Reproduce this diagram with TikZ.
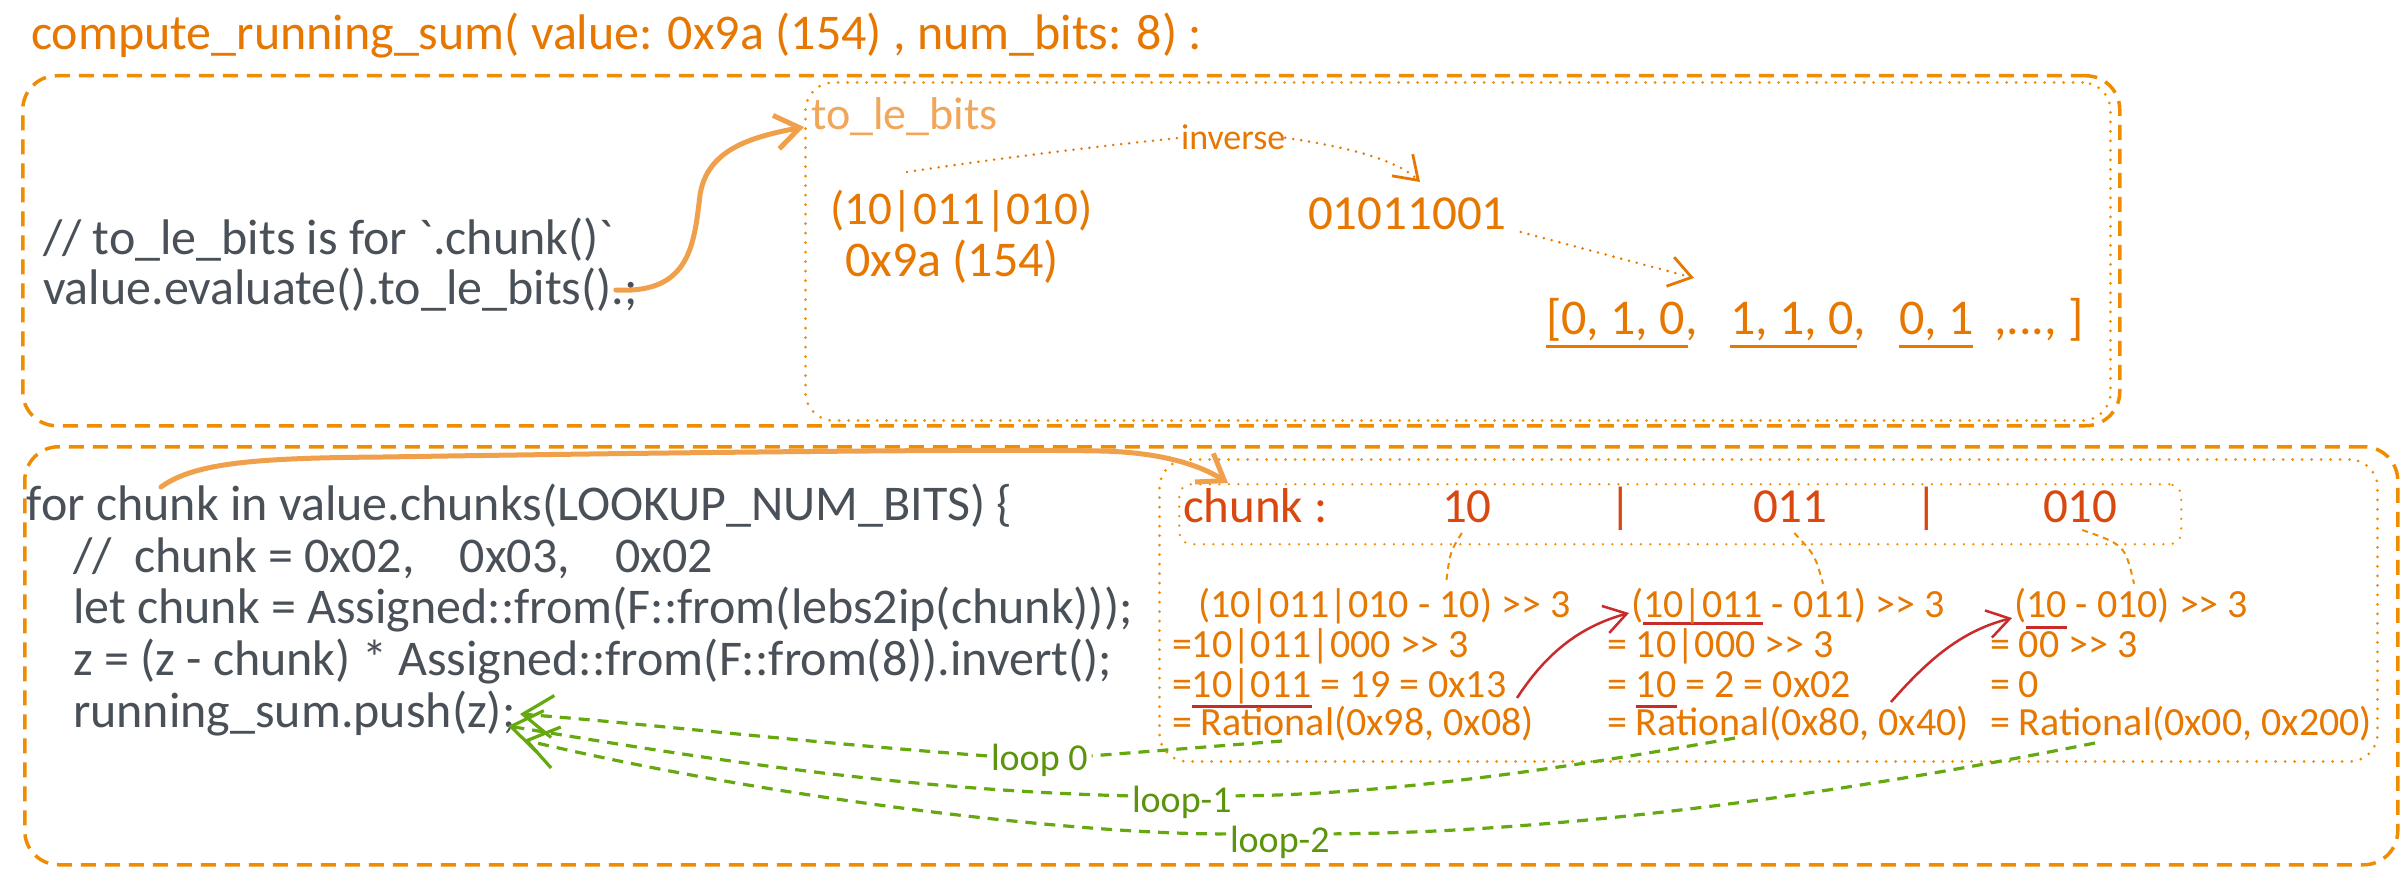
\documentclass[tikz,border=0pt]{standalone}
\usepackage{fontspec}
\setmainfont{Carlito}[Ligatures=TeXOff]
\usetikzlibrary{arrows.meta,calc}
\definecolor{ora}{HTML}{E67700}
\definecolor{boxora}{HTML}{F08C00}
\definecolor{lightora}{HTML}{F2A65A}
\definecolor{arrora}{HTML}{F0A04B}
\definecolor{chunkred}{HTML}{D9480F}
\definecolor{codegray}{HTML}{495057}
\definecolor{redline}{HTML}{C92A2A}
\definecolor{lime}{HTML}{66A80F}
\definecolor{limetext}{HTML}{5C940D}
\newcommand\myfs[1]{\fontsize{#1}{#1}\selectfont}
\newsavebox\ulbox
\newcommand\ulred[2][11pt]{\sbox\ulbox{#2}\rlap{\color{redline}\rule[-#1]{\wd\ulbox}{3.5pt}}\usebox\ulbox}
\tikzset{
  txt/.style={inner sep=0pt, outer sep=0pt, anchor=base west},
  code/.style={txt, text=codegray, font=\myfs{50}},
  big/.style={txt, text=ora, font=\myfs{50}},
  calc/.style={txt, text=ora, font=\myfs{40}},
  chunktxt/.style={txt, text=chunkred, font=\myfs{49}},
  looplbl/.style={txt, text=limetext, font=\myfs{38}},
  dashbox/.style={draw=boxora, line width=3.5pt, dash pattern=on 15pt off 9pt, rounded corners=34pt, anchor=north west, inner sep=0pt},
  dotbox/.style={draw=boxora, line width=3pt, line cap=round, dash pattern=on 0pt off 9.5pt, rounded corners=28pt, anchor=north west, inner sep=0pt},
  thickarrow/.style={draw=arrora, line width=5pt, line cap=round, -{Straight Barb[length=24pt,width=34pt,line width=5pt]}},
  dotline/.style={draw=ora, line width=2.8pt, line cap=round, dash pattern=on 0pt off 8pt},
  dotarrow/.style={dotline, -{Straight Barb[length=22pt,width=30pt,line width=2.8pt]}},
  thindash/.style={draw=boxora, line width=2pt, dash pattern=on 6pt off 5pt},
  redarrow/.style={draw=redline, line width=2.5pt, -{Straight Barb[length=22pt,width=28pt,line width=2.5pt]}},
  oraul/.style={draw=ora, line width=3pt},
  greendash/.style={draw=lime, line width=3.2pt, dash pattern=on 11pt off 8pt},
  greenarrow/.style={greendash, -{Straight Barb[length=30pt,width=42pt,line width=3.2pt]}},
}
\begin{document}
\begin{tikzpicture}[x=1pt,y=-1pt]
\useasboundingbox (0,0) rectangle (2406,882);
\fill[white] (0,0) rectangle (2406,882);

% boxes
\node[dashbox, minimum width=2097pt, minimum height=350pt] (topbox) at (21,74) {};
\node[dotbox, minimum width=1305pt, minimum height=338pt] (bitsbox) at (804,81) {};
\node[dashbox, minimum width=2373pt, minimum height=418pt] (botbox) at (23,445) {};
\node[dotbox, minimum width=1218pt, minimum height=302pt] (loopbox) at (1158,458) {};
\node[dotbox, line width=2.5pt, rounded corners=12pt, minimum width=1002pt, minimum height=60pt] (cbox) at (1178,483) {};

% title
\node[big] (title) at (31,50) {compute\_running\_sum( value: 0x9a (154) , num\_bits: 8) :};

% top code
\node[code] (c1) at (43,255) {// to\_le\_bits is for `.chunk()`};
\node[code] (c2) at (43,305) {value.evaluate().to\_le\_bits().;};

% to_le_bits box content
\node[txt, text=lightora, font=\myfs{46}] (tlb) at (811,130) {to\_le\_bits};
\node[txt, text=ora, font=\myfs{36}] (inv) at (1181,150) {inverse};
\node[big, font=\myfs{47}] (bits) at (830,225) {(10|011|010)};
\node[big] (hex) at (845,277) {0x9a (154)};
\node[big, font=\myfs{49}] (rev) at (1308,230) {01011001};
\node[big] (l1) at (1546,335) {[0, 1, 0,};
\node[big] (l2) at (1730,335) {1, 1, 0,};
\node[big] (l3) at (1899,335) {0, 1};
\node[big] (l4) at (1994,335) {,..., ]};
\draw[oraul] ($(l1.base west)+(0,12)$) -- ($(l1.base east)+(-9,12)$);
\draw[oraul] ($(l2.base west)+(0,12)$) -- ($(l2.base east)+(-9,12)$);
\draw[oraul] ($(l3.base west)+(0,12)$) -- ($(l3.base east)+(0,12)$);

\coordinate (invstart) at (907,172);
\coordinate (invtip) at (1420,182);
\draw[dotline] (invstart) .. controls (1000,158) and (1100,146) .. (inv.west);
\draw[dotarrow] (inv.east) .. controls (1340,146) and (1395,158) .. (invtip);
\coordinate (revstart) at ($(rev.base east)+(14,2)$);
\coordinate (listtip) at (1694,278);
\draw[dotarrow] (revstart) -- (listtip);

% arrow from code to to_le_bits
\coordinate (aStart) at ($(c2.base east)+(-22,-15)$);
\coordinate (aTip) at (804,127);
\draw[thickarrow] (aStart) .. controls (690,294) and (694,245) .. (700,195) .. controls (707,150) and (750,137) .. (aTip);

% bottom code
\node[code] (f1) at (27,520) {for chunk in value.chunks(LOOKUP\_NUM\_BITS) \{};
\node[code] (f2) at (73,572) {//\ \ chunk = 0x02,\ \ \ \ 0x03,\ \ \ \ 0x02};
\node[code] (f3) at (73,623) {let chunk = Assigned::from(F::from(lebs2ip(chunk)));};
\node[code] (f4) at (73,675) {z = (z - chunk) * Assigned::from(F::from(8)).invert();};
\node[code] (f5) at (73,727) {running\_sum.push(z);};

% arrow from for to chunk box
\coordinate (bStart) at (161,487);
\coordinate (bTip) at ($(cbox.north west)+(50,0)$);
\draw[thickarrow] (bStart) .. controls (195,462) and (260,458) .. (383,457) .. controls (700,452) and (1000,449) .. (1100,451) .. controls (1160,452) and (1200,465) .. (bTip);

% chunk row
\node[chunktxt] (chk) at (1183,522) {chunk :};
\node[chunktxt] (d1) at (1442,522) {10};
\node[chunktxt, anchor=base] (s1) at (1621,522) {|};
\node[chunktxt] (d2) at (1753,522) {011};
\node[chunktxt, anchor=base] (s2) at (1927,522) {|};
\node[chunktxt] (d3) at (2043,522) {010};

% calc columns
\node[calc] (a1) at (1198,617) {(10|011|010 - 10) >> 3};
\node[calc] (a2) at (1172,657) {=10|011|000 >> 3};
\node[calc] (a3) at (1172,697) {=\ulred{10|011} = 19 = 0x13};
\node[calc] (a4) at (1172,735) {= Rational(0x98, 0x08)};
\node[calc] (b1) at (1631,617) {(\ulred[8pt]{10|011} - 011) >> 3};
\node[calc] (b2) at (1607,657) {= 10|000 >> 3};
\node[calc] (b3) at (1607,697) {= \ulred{10} = 2 = 0x02};
\node[calc] (b4) at (1607,735) {= Rational(0x80, 0x40)};
\node[calc] (e1) at (2014,617) {(\ulred[12pt]{10} - 010) >> 3};
\node[calc] (e2) at (1990,657) {= 00 >> 3};
\node[calc] (e3) at (1990,697) {= 0};
\node[calc] (e4) at (1990,735) {= Rational(0x00, 0x200)};

% chunk connectors
\draw[thindash] ($(d1.base)+(-5,11)$) .. controls (1450,552) .. ($(a1.north west)+(248,-4)$);
\draw[thindash] ($(d2.base)+(4,11)$) .. controls (1815,555) .. ($(b1.north west)+(192,-4)$);
\draw[thindash] ($(d3.base)+(2,8)$) .. controls (2125,545) .. ($(e1.north west)+(120,-4)$);

% red arrows
\coordinate (r1s) at (1517,698);
\coordinate (r2s) at (1891,702);
\draw[redarrow] (r1s) .. controls (1545,655) and (1578,627) .. ($(b1.base west)+(-2,-4)$);
\draw[redarrow] (r2s) .. controls (1932,655) and (1965,630) .. ($(e1.base west)+(-2,1)$);

% loop labels
\node[looplbl] (lp0) at (991,770) {loop 0};
\node[looplbl] (lp1) at (1132,812) {loop-1};
\node[looplbl] (lp2) at (1230,852) {loop-2};

\coordinate (g0) at (1282,741);
\coordinate (g1) at (1735,738);
\coordinate (g2) at (2095,743);
\coordinate (t0) at (520,714);
\coordinate (t1) at (508,726);
\coordinate (t2) at (524,740);
\draw[greendash] (g0) -- ($(lp0.east)+(4,-4)$);
\draw[greenarrow] ($(lp0.west)+(-4,-4)$) .. controls (800,742) and (650,724) .. (t0);
\draw[greendash] (g1) .. controls (1600,762) and (1400,795) .. ($(lp1.east)+(4,-6)$);
\draw[greenarrow] ($(lp1.west)+(-4,-6)$) .. controls (900,790) and (700,758) .. (t1);
\draw[greendash] (g2) .. controls (1900,782) and (1600,832) .. ($(lp2.east)+(4,-8)$);
\draw[greenarrow] ($(lp2.west)+(-4,-8)$) .. controls (1100,835) and (800,805) .. (t2);
\end{tikzpicture}
\end{document}
